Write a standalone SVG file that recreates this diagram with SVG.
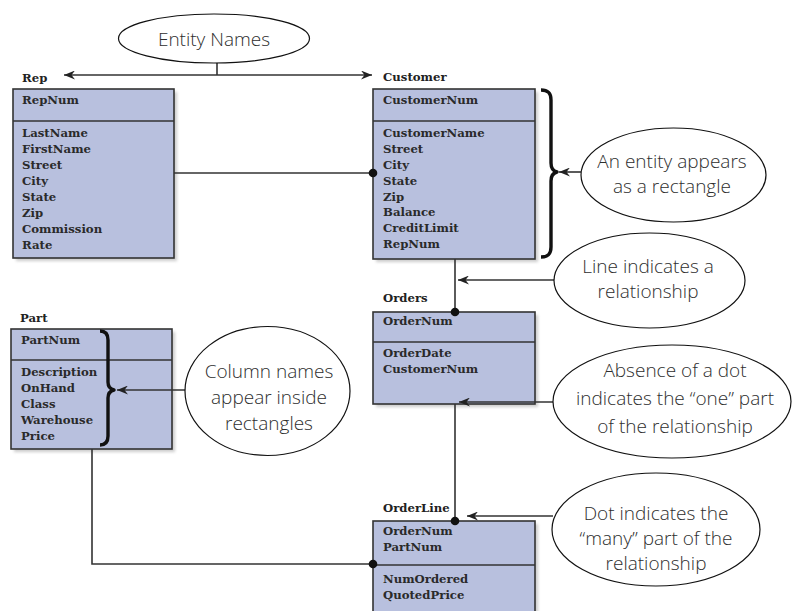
<svg xmlns="http://www.w3.org/2000/svg" width="792" height="611" viewBox="0 0 792 611">
<defs>
<style>
.box{fill:#b8c0de;stroke:#333;stroke-width:1.6}
.shadow{fill:#9a9a9a;opacity:0.5}
.div{stroke:#333;stroke-width:1.6}
.f{font-family:"DejaVu Serif",serif;font-weight:bold;font-size:11.7px;fill:#2a2a2a}
.lbl{font-family:"DejaVu Serif",serif;font-weight:bold;font-size:11.7px;fill:#222}
.call{fill:#fff;stroke:#111;stroke-width:1.2}
.ct{font-family:"Open Sans","DejaVu Sans",sans-serif;font-weight:300;font-size:19px;fill:#2e2e2e;text-anchor:middle}
.conn{fill:none;stroke:#333;stroke-width:1.6}
.arr{fill:none;stroke:#333;stroke-width:1.6;marker-end:url(#ah)}
.dot{fill:#111}
.brace{fill:none;stroke:#111;stroke-width:3.4;stroke-linejoin:round}
</style>
<filter id="blur" x="-10%" y="-10%" width="120%" height="120%"><feGaussianBlur stdDeviation="1.8"/></filter>
<marker id="ah" markerUnits="userSpaceOnUse" markerWidth="12" markerHeight="9" refX="11" refY="4.5" orient="auto">
<path d="M0,0 L11,4.5 L0,9 L3.5,4.5 Z" fill="#222"/>
</marker>
<marker id="ahs" markerUnits="userSpaceOnUse" markerWidth="12" markerHeight="9" refX="11" refY="4.5" orient="auto-start-reverse">
<path d="M0,0 L11,4.5 L0,9 L3.5,4.5 Z" fill="#222"/>
</marker>
</defs>
<rect width="792" height="611" fill="#fff"/>

<g id="rep">
<rect class="shadow" x="16" y="92" width="161" height="169" filter="url(#blur)"/>
<rect class="box" x="13" y="89" width="161" height="169"/>
<line class="div" x1="13" y1="121" x2="174" y2="121"/>
<text class="lbl" x="22" y="82">Rep</text>
<text class="f" x="22" y="104">RepNum</text>
<text class="f" x="22" y="137">LastName</text>
<text class="f" x="22" y="153">FirstName</text>
<text class="f" x="22" y="169">Street</text>
<text class="f" x="22" y="185">City</text>
<text class="f" x="22" y="201">State</text>
<text class="f" x="22" y="216.5">Zip</text>
<text class="f" x="22" y="232.5">Commission</text>
<text class="f" x="22" y="248.5">Rate</text>
</g>

<g id="customer">
<rect class="shadow" x="376" y="92" width="162" height="170" filter="url(#blur)"/>
<rect class="box" x="373" y="89" width="162" height="170"/>
<line class="div" x1="373" y1="121" x2="535" y2="121"/>
<text class="lbl" x="383" y="81">Customer</text>
<text class="f" x="383" y="104">CustomerNum</text>
<text class="f" x="383" y="136.5">CustomerName</text>
<text class="f" x="383" y="152.5">Street</text>
<text class="f" x="383" y="168.5">City</text>
<text class="f" x="383" y="184.5">State</text>
<text class="f" x="383" y="200.5">Zip</text>
<text class="f" x="383" y="216">Balance</text>
<text class="f" x="383" y="232">CreditLimit</text>
<text class="f" x="383" y="248">RepNum</text>
<path class="brace" d="M541,90 C548,90 551,93 551,100 L551,163 C551,168 553,171 557,172 C553,173 551,176 551,181 L551,247 C551,254 548,257 541,257"/>
</g>

<g id="part">
<rect class="shadow" x="14" y="332" width="161" height="120" filter="url(#blur)"/>
<rect class="box" x="11" y="329" width="161" height="120"/>
<line class="div" x1="11" y1="360" x2="172" y2="360"/>
<text class="lbl" x="20" y="322">Part</text>
<text class="f" x="21" y="344">PartNum</text>
<text class="f" x="21" y="376">Description</text>
<text class="f" x="21" y="392">OnHand</text>
<text class="f" x="21" y="408">Class</text>
<text class="f" x="21" y="424">Warehouse</text>
<text class="f" x="21" y="440">Price</text>
<path class="brace" d="M100,331 C105,331 108,334 108,340 L108,382 C108,387 110,389 114,390 C110,391 108,393 108,398 L108,436 C108,442 105,445 100,445"/>
</g>

<g id="orders">
<rect class="shadow" x="376" y="315" width="162" height="92" filter="url(#blur)"/>
<rect class="box" x="373" y="312" width="162" height="92"/>
<line class="div" x1="373" y1="342" x2="535" y2="342"/>
<text class="lbl" x="383" y="302">Orders</text>
<text class="f" x="383" y="325">OrderNum</text>
<text class="f" x="383" y="357">OrderDate</text>
<text class="f" x="383" y="373">CustomerNum</text>
</g>

<g id="orderline">
<rect class="shadow" x="376" y="524" width="162" height="100" filter="url(#blur)"/>
<rect class="box" x="373" y="521" width="162" height="100"/>
<line class="div" x1="373" y1="565" x2="535" y2="565"/>
<text class="lbl" x="383" y="512">OrderLine</text>
<text class="f" x="383" y="535">OrderNum</text>
<text class="f" x="383" y="551">PartNum</text>
<text class="f" x="383" y="582.5">NumOrdered</text>
<text class="f" x="383" y="598.5">QuotedPrice</text>
</g>

<g id="connectors">
<path class="conn" d="M217,63 V75"/>
<path class="conn" d="M64,75 H372" marker-start="url(#ahs)" marker-end="url(#ahs)"/>
<path class="conn" d="M174,173 H373"/>
<circle class="dot" cx="373" cy="173" r="4.3"/>
<path class="conn" d="M455,259 V312"/>
<circle class="dot" cx="455" cy="312" r="4.3"/>
<path class="conn" d="M455,404 V521"/>
<circle class="dot" cx="455" cy="521" r="4.3"/>
<path class="conn" d="M92,449 V564 H373"/>
<circle class="dot" cx="373" cy="564" r="4.3"/>
<path class="arr" d="M581,172 H559"/>
<path class="arr" d="M554,280 H458"/>
<path class="arr" d="M186,390 H117"/>
<path class="arr" d="M553,402 H459"/>
<path class="arr" d="M553,516 H467"/>
</g>

<g id="callout-entity-names">
<ellipse class="call" cx="214" cy="38.5" rx="95.5" ry="24.5"/>
<text class="ct" x="214" y="45.5">Entity Names</text>
</g>

<g id="callout-entity">
<ellipse class="call" cx="673.5" cy="175" rx="92.5" ry="47"/>
<text class="ct" x="672" y="168">An entity appears</text>
<text class="ct" x="672" y="193">as a rectangle</text>
</g>

<g id="callout-line">
<ellipse class="call" cx="649.5" cy="280.5" rx="95.5" ry="47.5"/>
<text class="ct" x="648" y="273">Line indicates a</text>
<text class="ct" x="648" y="298">relationship</text>
</g>

<g id="callout-columns">
<ellipse class="call" cx="267.5" cy="391" rx="82.5" ry="64.5"/>
<text class="ct" x="269" y="378">Column names</text>
<text class="ct" x="269" y="404">appear inside</text>
<text class="ct" x="269" y="430">rectangles</text>
</g>

<g id="callout-one">
<ellipse class="call" cx="672" cy="401.5" rx="119" ry="56.5"/>
<text class="ct" x="675" y="377">Absence of a dot</text>
<text class="ct" x="675" y="405">indicates the “one” part</text>
<text class="ct" x="675" y="433">of the relationship</text>
</g>

<g id="callout-many">
<ellipse class="call" cx="656" cy="529.5" rx="104" ry="56.5"/>
<text class="ct" x="656" y="520">Dot indicates the</text>
<text class="ct" x="656" y="545">“many” part of the</text>
<text class="ct" x="656" y="570">relationship</text>
</g>
</svg>
